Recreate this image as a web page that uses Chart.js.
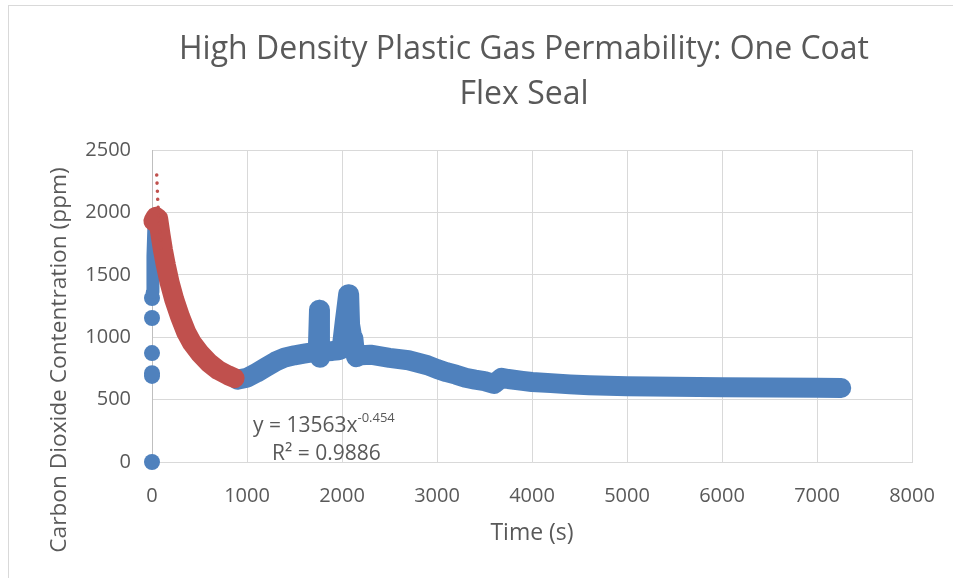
<!DOCTYPE html>
<html>
<head>
<meta charset="utf-8">
<script src="https://cdn.jsdelivr.net/npm/chart.js@4.4.1/dist/chart.umd.min.js"></script>
<style>
  body { margin: 0; background: #fff; overflow: hidden; }
  #frame { position: absolute; left: 8px; top: 5px; border: 1px solid #d9d9d9; width: 1030px; height: 600px; }
</style>
</head>
<body>
<div id="frame"><canvas id="chart_co2" width="1030" height="600"></canvas></div>
<script>
//Tick labels
const xTicks = [0, 1000, 2000, 3000, 4000, 5000, 6000, 7000, 8000];
const yTicks = [0, 500, 1000, 1500, 2000, 2500];

//Blue series: lone points at t=0, the early column and the main band
const blueStartX = [0, 0, 0, 0, 0, 0];
const blueStartY = [0, 690, 712, 873, 1154, 1314];
const blueColX = [3, 10, 22];
const blueColY = [1360, 1650, 1935];
const blueX = [900, 1000, 1100, 1200, 1300, 1400, 1500, 1600, 1700, 1745, 1758, 1768, 1775, 1800, 1900, 1960, 1995, 2030, 2045, 2065, 2075, 2085, 2105, 2120, 2135, 2150, 2200, 2300, 2500, 2700, 2900, 3000, 3100, 3200, 3300, 3400, 3500, 3600, 3680, 3750, 3900, 4000, 4200, 4400, 4600, 4800, 5000, 5500, 6000, 6500, 7000, 7255];
const blueY = [660, 675, 715, 760, 805, 838, 855, 868, 880, 885, 1220, 835, 870, 885, 890, 895, 905, 1130, 1220, 1345, 1345, 1100, 1010, 990, 880, 840, 855, 860, 835, 815, 775, 745, 720, 700, 675, 660, 648, 625, 675, 665, 650, 641, 632, 622, 615, 611, 607, 602, 598, 596, 594, 593];

//Red series (fitted part) and its power trendline
const redX = [15, 40, 65, 90, 115, 145, 185, 235, 295, 360, 420, 500, 600, 700, 800, 870];
const redY = [1930, 1965, 1950, 1820, 1700, 1580, 1440, 1300, 1165, 1040, 955, 875, 795, 735, 695, 672];
const trendX = [50, 55, 60, 70, 100];
const trendY = [2300, 2200, 2110, 1970, 1680];

const BLUE = '#4f81bd';
const RED = '#c0504d';
const TEXT = '#595959';
const FONT = "'Open Sans', sans-serif";

function toPoints(xs, ys){
    return xs.map(function(x, i){ return {x: x, y: ys[i]}; });
}

//Axis titles and the trendline label, drawn in canvas coords
const textPlugin = {
    id: 'texts',
    afterDraw: function(chart){
        var ctx = chart.ctx;
        ctx.save();
        ctx.fillStyle = TEXT;
        ctx.textBaseline = 'middle';
        ctx.textAlign = 'center';
        ctx.font = '23px ' + FONT;
        ctx.fillText('Time (s)', 523, 527);

        ctx.save();
        ctx.translate(51, 354);
        ctx.rotate(-Math.PI / 2);
        ctx.font = '22.7px ' + FONT;
        ctx.fillText('Carbon Dioxide Contentration (ppm)', 0, 0);
        ctx.restore();

        ctx.textAlign = 'left';
        ctx.textBaseline = 'alphabetic';
        ctx.font = '21px ' + FONT;
        var eq = 'y = 13563x';
        ctx.fillText(eq, 244, 426);
        var w = ctx.measureText(eq).width;
        ctx.font = '13px ' + FONT;
        ctx.fillText('-0.454', 244 + w, 416);
        ctx.font = '21px ' + FONT;
        ctx.fillText('R\u00b2 = 0.9886', 263, 454);
        ctx.restore();
    }
};

const data = {
    datasets: [
        {
            data: toPoints(trendX, trendY),
            showLine: true,
            borderColor: RED,
            borderWidth: 3.5,
            borderDash: [0.1, 8],
            borderCapStyle: 'round',
            pointRadius: 0,
            clip: false,
        },
        {
            data: toPoints(redX, redY),
            showLine: true,
            borderColor: RED,
            backgroundColor: RED,
            borderWidth: 20,
            borderCapStyle: 'round',
            borderJoinStyle: 'round',
            pointRadius: 0,
            clip: false,
        },
        {
            data: toPoints(blueX, blueY),
            showLine: true,
            borderColor: BLUE,
            backgroundColor: BLUE,
            borderWidth: 20,
            borderCapStyle: 'round',
            borderJoinStyle: 'round',
            pointRadius: 0,
            clip: false,
        },
        {
            data: toPoints(blueColX, blueColY),
            showLine: true,
            borderColor: BLUE,
            backgroundColor: BLUE,
            borderWidth: 13,
            borderCapStyle: 'round',
            borderJoinStyle: 'round',
            pointRadius: 0,
            clip: false,
        },
        {
            data: toPoints(blueStartX, blueStartY),
            showLine: false,
            backgroundColor: BLUE,
            borderColor: BLUE,
            pointRadius: 8,
            pointBorderWidth: 0,
            clip: false,
        },
    ]
};

const config = {
    type: 'scatter',
    data: data,
    options: {
        responsive: false,
        animation: false,
        devicePixelRatio: 1,
        layout: { padding: 0 },
        plugins: {
            legend: { display: false },
            tooltip: { enabled: false },
            title: {
                display: true,
                text: ['High Density Plastic Gas Permability: One Coat', 'Flex Seal'],
                color: TEXT,
                font: { family: FONT, size: 32, weight: 'normal', lineHeight: 1.4 },
                padding: { top: 21.6, bottom: 32.8 },
            },
        },
        scales: {
            x: {
                type: 'linear',
                min: 0,
                max: 8000,
                afterBuildTicks: function(s){ s.ticks = xTicks.map(function(v){ return {value: v}; }); },
                afterFit: function(s){ s.height = 144; },
                grid: { color: '#d9d9d9', drawTicks: false },
                border: { color: '#d9d9d9' },
                ticks: { color: TEXT, font: { family: FONT, size: 20 }, padding: 22, maxRotation: 0,
                         callback: function(v){ return String(v); } },
            },
            y: {
                type: 'linear',
                min: 0,
                max: 2500,
                afterBuildTicks: function(s){ s.ticks = yTicks.map(function(v){ return {value: v}; }); },
                afterFit: function(s){ s.width = 143; },
                grid: { color: '#d9d9d9', drawTicks: false },
                border: { color: '#bfbfbf' },
                ticks: { color: TEXT, font: { family: FONT, size: 20 }, padding: 21,
                         callback: function(v){ return String(v); } },
            },
            //empty right box, keeps the plot narrow while the title stays centred on the frame
            y2: {
                type: 'linear',
                position: 'right',
                display: true,
                grid: { display: false },
                border: { display: false },
                ticks: { display: false },
                afterFit: function(s){ s.width = 127; },
            },
        },
    },
    plugins: [textPlugin],
};

var grapharea = document.getElementById('chart_co2').getContext('2d');
var co2_chart = new Chart(grapharea, config);
</script>
</body>
</html>
